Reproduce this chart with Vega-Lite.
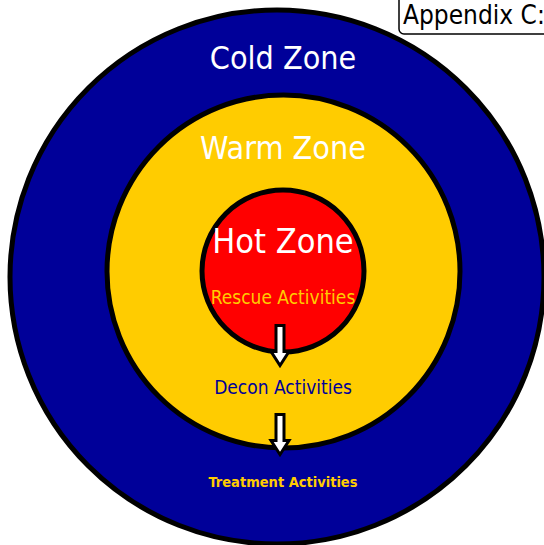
{
  "$schema": "https://vega.github.io/schema/vega-lite/v6.json",
  "width": 544,
  "height": 545,
  "padding": 0,
  "autosize": {"type": "none"},
  "background": "white",
  "config": {"view": {"stroke": null}},
  "datasets": {
    "zones": [
      {"zone": "Cold Zone", "x": -6, "y": -6, "radius": 267},
      {"zone": "Warm Zone", "x": 0.5, "y": -0.5, "radius": 176.5},
      {"zone": "Hot Zone", "x": 0, "y": 0, "radius": 81}
    ],
    "labels": [
      {"label": "Cold Zone", "kind": "zone title", "zone": "Cold Zone", "x": 0, "y": 212},
      {"label": "Warm Zone", "kind": "zone title", "zone": "Warm Zone", "x": 0, "y": 122},
      {"label": "Hot Zone", "kind": "hot title", "zone": "Hot Zone", "x": 0, "y": 28},
      {"label": "Rescue Activities", "kind": "activity", "zone": "Hot Zone", "x": 0, "y": -26.5},
      {"label": "Decon Activities", "kind": "activity", "zone": "Warm Zone", "x": 0, "y": -116.5},
      {"label": "Treatment Activities", "kind": "treatment", "zone": "Cold Zone", "x": 0, "y": -211.5}
    ],
    "flows": [
      {"from": "Hot Zone", "to": "Warm Zone", "x": -3, "y": -74.5},
      {"from": "Warm Zone", "to": "Cold Zone", "x": -3, "y": -163.5}
    ],
    "note": [
      {"note": "Appendix C:", "x1": 116, "x2": 300, "y1": 237, "y2": 285, "tx": 120, "ty": 247}
    ]
  },
  "layer": [
    {
      "data": {"name": "zones"},
      "mark": {"type": "point", "shape": "circle", "filled": true, "opacity": 1, "stroke": "black", "strokeWidth": 5},
      "encoding": {
        "x": {"field": "x", "type": "quantitative", "scale": {"domain": [-283, 261], "nice": false, "zero": false}, "axis": null},
        "y": {"field": "y", "type": "quantitative", "scale": {"domain": [-274, 271], "nice": false, "zero": false}, "axis": null},
        "size": {"field": "radius", "type": "quantitative", "scale": {"type": "pow", "exponent": 2, "domain": [0, 267], "range": [0, 285156]}, "legend": null},
        "fill": {"field": "zone", "type": "nominal", "scale": {"domain": ["Cold Zone", "Warm Zone", "Hot Zone"], "range": ["#000099", "#FFCC00", "#FF0000"]}, "legend": null}
      }
    },
    {
      "data": {"name": "labels"},
      "transform": [{"filter": "datum.kind === 'zone title'"}],
      "mark": {"type": "text", "font": "DejaVu Sans Condensed, Roboto, sans-serif", "fontSize": 32, "color": "white", "align": "center", "baseline": "middle"},
      "encoding": {
        "x": {"field": "x", "type": "quantitative"},
        "y": {"field": "y", "type": "quantitative"},
        "text": {"field": "label"}
      }
    },
    {
      "data": {"name": "labels"},
      "transform": [{"filter": "datum.kind === 'hot title'"}],
      "mark": {"type": "text", "font": "DejaVu Sans Condensed, Roboto, sans-serif", "fontSize": 34, "color": "white", "align": "center", "baseline": "middle"},
      "encoding": {
        "x": {"field": "x", "type": "quantitative"},
        "y": {"field": "y", "type": "quantitative"},
        "text": {"field": "label"}
      }
    },
    {
      "data": {"name": "labels"},
      "transform": [{"filter": "datum.kind === 'activity'"}],
      "mark": {"type": "text", "font": "DejaVu Sans Condensed, Roboto, sans-serif", "fontSize": 19, "align": "center", "baseline": "middle"},
      "encoding": {
        "x": {"field": "x", "type": "quantitative"},
        "y": {"field": "y", "type": "quantitative"},
        "text": {"field": "label"},
        "color": {"field": "zone", "type": "nominal", "scale": {"domain": ["Hot Zone", "Warm Zone"], "range": ["#FFCC00", "#000099"]}, "legend": null}
      }
    },
    {
      "data": {"name": "labels"},
      "transform": [{"filter": "datum.kind === 'treatment'"}],
      "mark": {"type": "text", "font": "DejaVu Sans Condensed, Roboto, sans-serif", "fontWeight": "bold", "fontSize": 14.5, "color": "#FFCC00", "align": "center", "baseline": "middle"},
      "encoding": {
        "x": {"field": "x", "type": "quantitative"},
        "y": {"field": "y", "type": "quantitative"},
        "text": {"field": "label"}
      }
    },
    {
      "data": {"name": "flows"},
      "mark": {"type": "point", "shape": "M-0.2,-1L0.2,-1L0.2,0.3L0.45,0.3L0,1L-0.45,0.3L-0.2,0.3Z", "filled": true, "fill": "white", "stroke": "black", "strokeWidth": 3, "opacity": 1, "size": 1600},
      "encoding": {
        "x": {"field": "x", "type": "quantitative"},
        "y": {"field": "y", "type": "quantitative"}
      }
    },
    {
      "data": {"name": "note"},
      "mark": {"type": "rect", "fill": "white", "stroke": "black", "strokeWidth": 1.5, "cornerRadius": 5},
      "encoding": {
        "x": {"field": "x1", "type": "quantitative"},
        "x2": {"field": "x2"},
        "y": {"field": "y1", "type": "quantitative"},
        "y2": {"field": "y2"}
      }
    },
    {
      "data": {"name": "note"},
      "mark": {"type": "text", "font": "DejaVu Sans Condensed, Roboto, sans-serif", "fontSize": 26, "color": "black", "align": "left", "baseline": "alphabetic"},
      "encoding": {
        "x": {"field": "tx", "type": "quantitative"},
        "y": {"field": "ty", "type": "quantitative"},
        "text": {"field": "note"}
      }
    }
  ]
}
